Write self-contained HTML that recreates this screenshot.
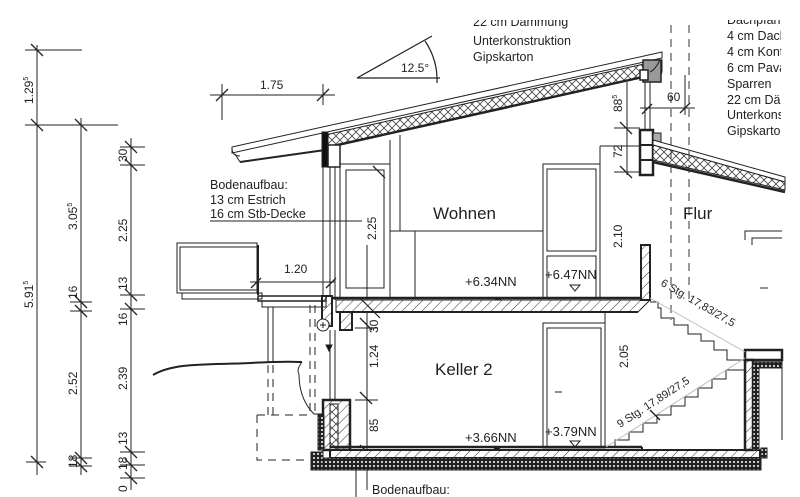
<!DOCTYPE html>
<html><head><meta charset="utf-8"><style>
html,body{margin:0;padding:0;background:#fff;}
svg{display:block;}
text{font-family:"Liberation Sans",sans-serif;fill:#222;}
</style></head><body>
<svg width="800" height="497" viewBox="0 0 800 497" xmlns="http://www.w3.org/2000/svg">
<defs>
<pattern id="hat" width="7" height="7" patternUnits="userSpaceOnUse" patternTransform="rotate(45)">
<rect width="7" height="7" fill="#fff"/><line x1="0" y1="0" x2="0" y2="7" stroke="#333" stroke-width="1"/></pattern>
<pattern id="xx" width="8" height="8" patternUnits="userSpaceOnUse">
<rect width="8" height="8" fill="#fff"/><path d="M0 0L8 8M8 0L0 8" stroke="#444" stroke-width="0.8"/></pattern>
<pattern id="dots" width="4" height="4" patternUnits="userSpaceOnUse">
<rect width="4" height="4" fill="#222"/><circle cx="2" cy="2" r="1" fill="#fff"/></pattern>
</defs>
<g stroke="#222" fill="none" stroke-width="1">
<line x1="37" y1="45" x2="37" y2="475"/>
<line x1="25" y1="50" x2="82" y2="50"/><line x1="25" y1="125" x2="118" y2="125"/>
<line x1="81" y1="118" x2="81" y2="475"/>
<line x1="131" y1="138" x2="131" y2="490"/>
<line x1="120" y1="147" x2="145" y2="147"/><line x1="120" y1="165" x2="145" y2="165"/>
<line x1="120" y1="295" x2="145" y2="295"/><line x1="120" y1="309" x2="145" y2="309"/>
<line x1="120" y1="452" x2="145" y2="452"/><line x1="120" y1="465" x2="145" y2="465"/><line x1="120" y1="478" x2="145" y2="478"/>
<line x1="70" y1="302" x2="92" y2="302"/><line x1="70" y1="311" x2="92" y2="311"/>
<line x1="70" y1="458" x2="92" y2="458"/><line x1="70" y1="466" x2="92" y2="466"/>
<line x1="26" y1="462" x2="46" y2="462"/>
<g stroke-width="1.3">
<path d="M31 44l12 12M31 119l12 12M75 119l12 12M75 296l12 12M75 305l12 12M75 452l12 12M75 460l12 12M31 456l12 12"/>
<path d="M125 141l12 12M125 159l12 12M125 289l12 12M125 303l12 12M125 446l12 12M125 459l12 12M125 472l12 12"/>
</g>
</g>
<g font-size="12">
<text transform="translate(33,104) rotate(-90)">1.29<tspan font-size="7" dy="-5">5</tspan></text>
<text transform="translate(33,308) rotate(-90)">5.91<tspan font-size="7" dy="-5">5</tspan></text>
<text transform="translate(77,230) rotate(-90)">3.05<tspan font-size="7" dy="-5">5</tspan></text>
<text transform="translate(77,299) rotate(-90)">16</text>
<text transform="translate(77,395) rotate(-90)">2.52</text>
<text transform="translate(77,468) rotate(-90)">18</text>
<text transform="translate(127,162) rotate(-90)">30</text>
<text transform="translate(127,242) rotate(-90)">2.25</text>
<text transform="translate(127,290) rotate(-90)">13</text>
<text transform="translate(127,326) rotate(-90)">16</text>
<text transform="translate(127,390) rotate(-90)">2.39</text>
<text transform="translate(127,445) rotate(-90)">13</text>
<text transform="translate(127,470) rotate(-90)">18</text>
<text transform="translate(127,492) rotate(-90)">0</text>
</g>

<g stroke="#222" fill="none">
<line x1="210" y1="95" x2="335" y2="95"/><line x1="222" y1="84" x2="222" y2="120"/><line x1="323" y1="84" x2="323" y2="105"/>
<path d="M216 101l12-12M317 101l12-12" stroke-width="1.3"/>
</g>
<text x="260" y="89" font-size="12">1.75</text>

<g stroke="#222" fill="none" stroke-width="1.2">
<line x1="357" y1="78" x2="440" y2="78"/><line x1="357" y1="78" x2="432" y2="36"/>
<path d="M425 41 A70 70 0 0 1 437 83"/>
</g>
<text x="401" y="72" font-size="12">12.5°</text>

<g font-size="12.5">
<text x="473" y="26">22 cm Dämmung</text>
<text x="473" y="45">Unterkonstruktion</text>
<text x="473" y="61">Gipskarton</text>
</g>
<svg x="720" y="0" width="61" height="140"><g font-size="12.5">
<text x="7" y="24">Dachpfannen</text>
<text x="7" y="40">4 cm Dachlatten</text><text x="7" y="56">4 cm Konterlatten</text>
<text x="7" y="72">6 cm Pavatex</text><text x="7" y="88">Sparren</text>
<text x="7" y="104">22 cm Dämmung</text><text x="7" y="119">Unterkonstruktion</text>
<text x="7" y="135">Gipskarton</text></g></svg>
<rect x="720" y="0" width="80" height="20" fill="#fff"/>
<rect x="460" y="0" width="150" height="20" fill="#fff"/>

<g stroke="#222">
<polygon points="232,147 662,52 662,58 232,153" fill="#fff" stroke-width="1"/>
<polygon points="325,135 662,60 662,72 325,147" fill="url(#xx)" stroke-width="1"/>
<line x1="325" y1="148" x2="662" y2="73" stroke-width="2"/>
<line x1="240" y1="162" x2="325" y2="150" stroke-width="2"/>
<line x1="235" y1="154" x2="240" y2="162"/>
<path d="M232 148 q0 8 8 8" fill="none"/>
<rect x="322" y="132" width="6" height="35" fill="#111"/>
<rect x="328" y="145" width="12" height="22" fill="#fff" stroke-width="1.5"/>
<rect x="643" y="60" width="18" height="22" fill="#999" stroke-width="1.5"/>
<rect x="640" y="70" width="8" height="10" fill="#fff" stroke-width="1.5"/>
<path d="M660 60 q-5 10 -10 12" fill="none"/>
<line x1="645" y1="82" x2="645" y2="130"/><line x1="650" y1="82" x2="650" y2="130"/>
<rect x="640" y="130" width="13" height="45" fill="#fff" stroke-width="2.5"/>
<line x1="640" y1="145" x2="653" y2="145" stroke-width="2"/><line x1="640" y1="160" x2="653" y2="160" stroke-width="2"/>
<rect x="653" y="133" width="8" height="12" fill="#aaa"/>
<polygon points="653,140 785,177 785,182 653,145" fill="#fff"/>
<polygon points="653,145 785,182 785,190 653,160" fill="url(#xx)"/>
<line x1="653" y1="162" x2="785" y2="192" stroke-width="2.5"/>
</g>
<g stroke="#333" stroke-dasharray="8,6">
<line x1="671" y1="25" x2="671" y2="320"/><line x1="689" y1="25" x2="689" y2="300"/>
</g>
<g stroke="#222" fill="none">
<line x1="640" y1="108" x2="695" y2="108"/><line x1="685" y1="75" x2="685" y2="115"/>
<path d="M642 114l10-10M680 113l10-10" stroke-width="1.3"/>
<line x1="627" y1="82" x2="627" y2="175"/><line x1="600" y1="146" x2="600" y2="295"/>
<line x1="600" y1="146" x2="640" y2="146"/><line x1="614" y1="128" x2="640" y2="128"/><line x1="614" y1="172" x2="640" y2="172"/>
<path d="M620 122l12 12M620 166l12 12" stroke-width="1.3"/>
</g>
<text x="667" y="101" font-size="12">60</text>
<text transform="translate(622,112) rotate(-90)" font-size="12">88<tspan font-size="7" dy="-5">5</tspan></text>
<text transform="translate(622,158) rotate(-90)" font-size="12">72</text>
<text transform="translate(622,248) rotate(-90)" font-size="12">2.10</text>

<g stroke="#222" fill="none">
<line x1="323" y1="167" x2="323" y2="300"/><line x1="330" y1="167" x2="330" y2="300"/><line x1="335" y1="167" x2="335" y2="300"/>
<line x1="390" y1="140" x2="390" y2="231"/><line x1="400" y1="135" x2="400" y2="231"/>
<rect x="340" y="164" width="50" height="134"/><rect x="346" y="170" width="38" height="118"/>
<rect x="390" y="231" width="25" height="67"/><line x1="415" y1="231" x2="543" y2="231"/>
<rect x="543" y="164" width="57" height="134"/><rect x="547" y="169" width="49" height="82"/><rect x="547" y="256" width="49" height="42"/>
<line x1="210" y1="221" x2="362" y2="221"/><line x1="367" y1="245" x2="367" y2="490"/>
<path d="M373 166l12 12" stroke-width="1.3"/>
</g>
<g font-size="12.5">
<text x="210" y="189">Bodenaufbau:</text><text x="210" y="204">13 cm Estrich</text><text x="210" y="218">16 cm Stb-Decke</text>
</g>
<text transform="translate(376,240) rotate(-90)" font-size="12">2.25</text>
<text x="433" y="219" font-size="17">Wohnen</text>
<text x="683" y="219" font-size="17">Flur</text>
<text x="465" y="286" font-size="13">+6.34NN</text>
<text x="545" y="279" font-size="13">+6.47NN</text>
<path d="M493 297h10l-5 6z" fill="#111"/>
<path d="M570 285h10l-5 6z" fill="#fff" stroke="#222"/>
<g stroke="#222" fill="none">
<path d="M745 240V231H782"/><path d="M752 245V238H782"/><line x1="760" y1="288" x2="768" y2="288"/>
</g>

<g stroke="#222">
<polygon points="336,300 650,300 638,312 336,312" fill="url(#hat)"/>
<line x1="330" y1="298" x2="650" y2="298" stroke-width="2.5"/>
<line x1="336" y1="312" x2="638" y2="312" stroke-width="2"/>
<rect x="641" y="245" width="9" height="55" fill="url(#hat)" stroke-width="2"/>
<rect x="340" y="312" width="12" height="18" fill="url(#hat)" stroke-width="2"/>
<rect x="322" y="296" width="10" height="30" fill="url(#hat)" stroke-width="2"/>
<circle cx="323" cy="325" r="6" fill="#fff"/><path d="M320 325h6M323 322v6"/>
<line x1="330" y1="330" x2="330" y2="400"/><line x1="335" y1="330" x2="335" y2="400"/>
<path d="M326 345h6l-3 6z" fill="#111"/>
</g>
<g stroke="#222" fill="none">
<rect x="177" y="243" width="80" height="50"/><rect x="180" y="247" width="77" height="43"/>
<rect x="182" y="293" width="80" height="6"/><line x1="258" y1="245" x2="258" y2="295" stroke-width="2"/>
<rect x="258" y="296" width="68" height="5" stroke-width="1.5"/><rect x="262" y="301" width="64" height="6"/>
<line x1="268" y1="307" x2="268" y2="362"/><line x1="273" y1="307" x2="273" y2="362"/>
<line x1="250" y1="282" x2="335" y2="282"/><path d="M251 288l10-10M326 288l10-10" stroke-width="1.3"/>
<path d="M153 375 C175 362 210 365 250 363 S290 362 302 362" stroke-width="2"/>
<path d="M302 362 q-6 8 -3 12 q0 25 15 40 h8"/>
<g stroke-dasharray="8,6"><line x1="268" y1="365" x2="268" y2="415"/><line x1="273" y1="365" x2="273" y2="415"/>
<line x1="310" y1="305" x2="310" y2="415"/><line x1="315" y1="305" x2="315" y2="415"/>
<path d="M257 415V460H310M257 415H310"/></g>
</g>
<text x="284" y="273" font-size="12">1.20</text>

<g stroke="#222" fill="none">
<rect x="543" y="323" width="62" height="125"/><rect x="547" y="328" width="54" height="120"/>
<line x1="555" y1="392" x2="562" y2="392"/>
<line x1="605" y1="312" x2="605" y2="448"/>
<line x1="360" y1="298" x2="380" y2="318" stroke-width="1.2"/>
<path d="M360 318l12 12M360 392l12 12M360 445l12 12" stroke-width="1.3"/>
<line x1="355" y1="328" x2="378" y2="328"/><line x1="355" y1="400" x2="378" y2="400"/>
</g>
<text transform="translate(378,333) rotate(-90)" font-size="12">30</text>
<text transform="translate(378,368) rotate(-90)" font-size="12">1.24</text>
<text transform="translate(378,432) rotate(-90)" font-size="12">85</text>
<text transform="translate(628,368) rotate(-90)" font-size="12">2.05</text>
<text x="435" y="375" font-size="17">Keller 2</text>
<text x="465" y="442" font-size="13">+3.66NN</text>
<text x="545" y="436" font-size="13">+3.79NN</text>
<path d="M492 446h10l-5 6z" fill="#111"/>
<path d="M570 441h10l-5 6z" fill="#fff" stroke="#222"/>
<g stroke="#222">
<rect x="323" y="400" width="27" height="50" fill="url(#hat)" stroke-width="2.5"/>
<rect x="330" y="404" width="8" height="46" fill="url(#xx)"/>
<rect x="318" y="415" width="6" height="35" fill="url(#dots)"/>
<rect x="330" y="450" width="430" height="8" fill="url(#hat)" stroke-width="2"/>
<line x1="330" y1="447" x2="642" y2="447" stroke-width="2.5"/><line x1="642" y1="447" x2="642" y2="451" stroke-width="2"/>
<path d="M311 458H767V448H761V470H311Z" fill="url(#dots)"/>
<rect x="311" y="452" width="12" height="18" fill="url(#dots)"/>
<line x1="356" y1="470" x2="356" y2="497"/>
<rect x="745" y="350" width="37" height="10" fill="#fff" stroke-width="2.5"/>
<rect x="745" y="360" width="8" height="90" fill="url(#hat)" stroke-width="2.5"/>
<rect x="753" y="362" width="29" height="6" fill="url(#dots)"/>
<rect x="753" y="368" width="6" height="82" fill="url(#dots)"/>
<line x1="782" y1="360" x2="782" y2="440"/>
</g>
<g stroke="#222" fill="none">
<path d="M650 302H658V308H661V318H674V325H688V334H701V341H714V350H727V360H745"/>
<path d="M615 447V440H629V432H643V423H657V415H671V406H685V397H698V388H712V379H726V370H745"/>
<line x1="650" y1="298" x2="745" y2="352" stroke="#bbb"/><line x1="606" y1="447" x2="745" y2="358" stroke="#bbb"/>
<path d="M650 410l10 10" stroke-width="1.3"/>
</g>
<text transform="translate(660,285) rotate(30)" font-size="11">6 Stg. 17,83/27,5</text>
<text transform="translate(620,428) rotate(-33)" font-size="11">9 Stg. 17,89/27,5</text>
<text x="372" y="494" font-size="12.5">Bodenaufbau:</text>
</svg>
</body></html>
